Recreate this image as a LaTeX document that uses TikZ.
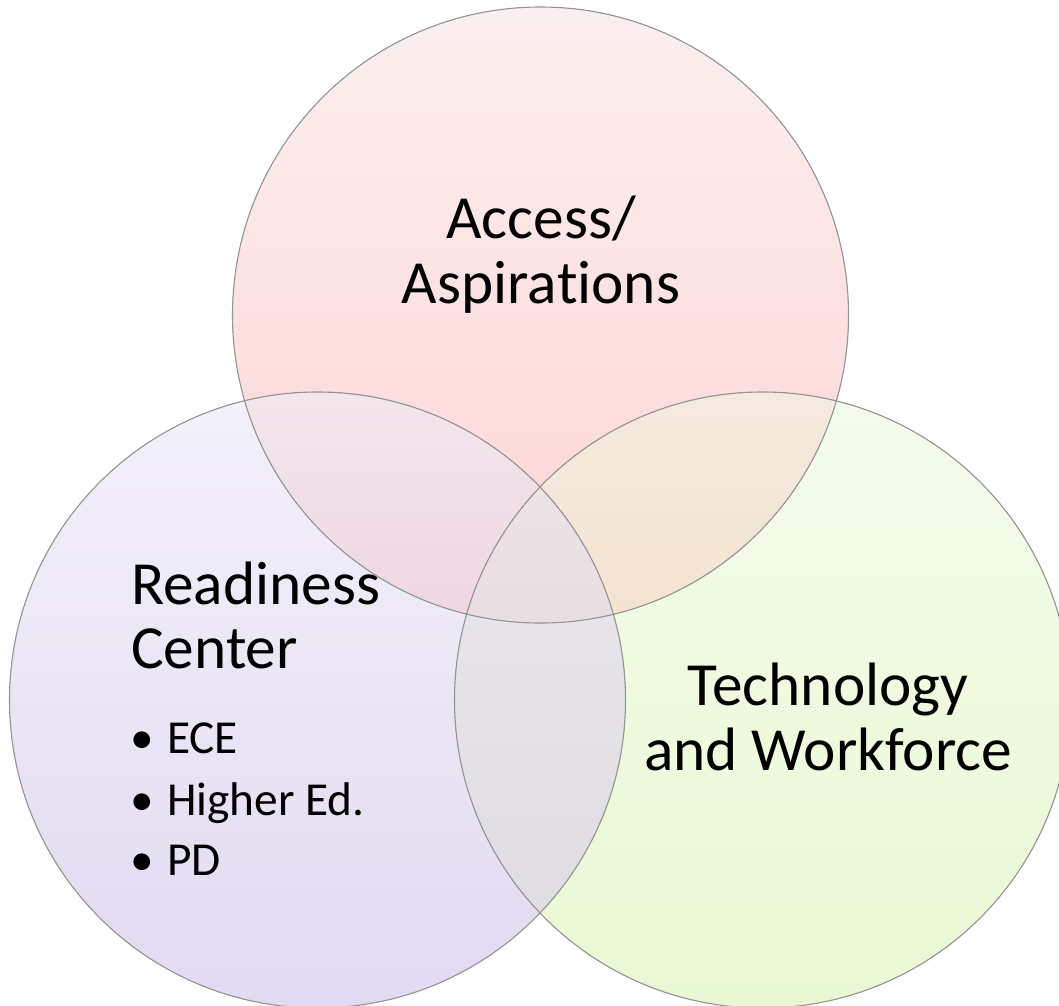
\documentclass[tikz,border=0pt]{standalone}
\usepackage{fontspec}
\setmainfont{Carlito}[RawFeature={-liga;-clig;-calt;-dlig}]
\begin{document}
\begin{tikzpicture}[x=1pt,y=-1pt,
  rim/.style={draw=black!42, line width=1.1pt},
  big/.style={inner sep=0pt, font=\fontsize{61.3}{64}\selectfont},
  small/.style={inner sep=0pt, font=\fontsize{47.3}{50}\selectfont}]
\path[use as bounding box] (0,0) rectangle (1059,1005);
\clip (0,0) rectangle (1059,1005);
\coordinate (T) at (540.5,315);
\coordinate (L) at (317.5,700);
\coordinate (R) at (762.5,700);
\def\rad{308pt}
% single circles
\fill[top color={rgb,255:red,252;green,239;blue,239}, bottom color={rgb,255:red,253;green,212;blue,212}] (T) circle (\rad);
\fill[top color={rgb,255:red,243;green,241;blue,250}, bottom color={rgb,255:red,226;green,218;blue,241}] (L) circle (\rad);
\fill[top color={rgb,255:red,244;green,252;blue,236}, bottom color={rgb,255:red,233;green,248;blue,211}] (R) circle (\rad);
% top & left
\begin{scope}
\clip (T) circle (\rad);
\clip (L) circle (\rad);
\fill[top color={rgb,255:red,244;green,230;blue,236}, bottom color={rgb,255:red,237;green,214;blue,226}] (0,392) rectangle (1059,624);
\end{scope}
% top & right
\begin{scope}
\clip (T) circle (\rad);
\clip (R) circle (\rad);
\fill[top color={rgb,255:red,246;green,234;blue,222}, bottom color={rgb,255:red,243;green,227;blue,209}] (0,392) rectangle (1059,624);
\end{scope}
% left & right
\begin{scope}
\clip (L) circle (\rad);
\clip (R) circle (\rad);
\fill[top color={rgb,255:red,234;green,232;blue,236}, bottom color={rgb,255:red,223;green,221;blue,226}] (0,487) rectangle (1059,914);
\end{scope}
% all three
\begin{scope}
\clip (T) circle (\rad);
\clip (L) circle (\rad);
\clip (R) circle (\rad);
\fill[top color={rgb,255:red,236;green,227;blue,231}, bottom color={rgb,255:red,232;green,222;blue,226}] (0,487) rectangle (1059,624);
\end{scope}
% outlines
\draw[rim] (T) circle (\rad);
\draw[rim] (L) circle (\rad);
\draw[rim] (R) circle (\rad);
% texts
\node[big, anchor=base] (a1) at (541,238) {Access/};
\node[big, anchor=base] (a2) at (541,303) {Aspira\kern0pt tions};
\node[big, anchor=base west] (r1) at (131,604) {Readiness};
\node[big, anchor=base west] (r2) at (131,668) {Center};
\node[big, anchor=base] (t1) at (828,705) {Technology};
\node[big, anchor=base] (t2) at (828,770) {and Workforce};
\node[small, anchor=base] (b1) at (142,753) {•};
\node[small, anchor=base west] (e1) at (167,753) {ECE};
\node[small, anchor=base] (b2) at (142,815) {•};
\node[small, anchor=base west] (e2) at (167,815) {Higher Ed.};
\node[small, anchor=base] (b3) at (142,875) {•};
\node[small, anchor=base west] (e3) at (167,875) {PD};
\end{tikzpicture}
\end{document}
